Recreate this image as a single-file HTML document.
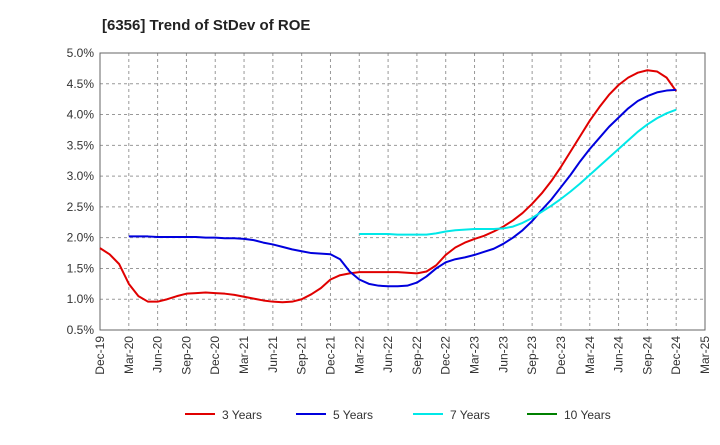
<!DOCTYPE html>
<html><head><meta charset="utf-8"><style>
body{margin:0;background:#fff;font-family:"Liberation Sans",Arial,sans-serif}
svg text{font-family:"Liberation Sans",Arial,sans-serif}
</style></head><body>
<svg id="chart" width="720" height="440">
<text x="102" y="30" font-size="15" font-weight="bold" fill="#222">[6356]  Trend of StDev of ROE</text>
<g id="grid"></g>
<g id="axes"></g>
<g id="series"></g>
<g id="legend"></g>
</svg>
<script>
const xLabels=["Dec-19","Mar-20","Jun-20","Sep-20","Dec-20","Mar-21","Jun-21","Sep-21","Dec-21","Mar-22","Jun-22","Sep-22","Dec-22","Mar-23","Jun-23","Sep-23","Dec-23","Mar-24","Jun-24","Sep-24","Dec-24","Mar-25"];
const yTicks=[0.5,1.0,1.5,2.0,2.5,3.0,3.5,4.0,4.5,5.0];
const s3Start=0;
const s3=[1.83,1.73,1.57,1.25,1.05,0.96,0.96,1.0,1.05,1.09,1.10,1.11,1.10,1.09,1.07,1.04,1.01,0.98,0.96,0.95,0.96,1.0,1.08,1.18,1.32,1.39,1.42,1.44,1.44,1.44,1.44,1.44,1.43,1.42,1.45,1.55,1.72,1.84,1.92,1.98,2.03,2.10,2.18,2.28,2.40,2.55,2.72,2.92,3.15,3.40,3.65,3.90,4.12,4.32,4.48,4.60,4.68,4.72,4.70,4.60,4.38];
const s5Start=3;
const s5=[2.02,2.02,2.02,2.01,2.01,2.01,2.01,2.01,2.00,2.00,1.99,1.99,1.98,1.96,1.92,1.89,1.85,1.81,1.78,1.75,1.74,1.73,1.65,1.45,1.32,1.25,1.22,1.21,1.21,1.22,1.27,1.37,1.50,1.60,1.65,1.68,1.72,1.77,1.82,1.90,2.00,2.12,2.27,2.45,2.62,2.82,3.02,3.24,3.44,3.62,3.80,3.95,4.10,4.22,4.30,4.36,4.39,4.40];
const s7Start=27;
const s7=[2.06,2.06,2.06,2.06,2.05,2.05,2.05,2.05,2.07,2.10,2.12,2.13,2.14,2.14,2.14,2.15,2.18,2.24,2.32,2.42,2.52,2.63,2.75,2.88,3.02,3.16,3.30,3.44,3.58,3.72,3.84,3.94,4.02,4.08];
const s10=[];
const NS="http://www.w3.org/2000/svg";
const L=100,R=705,T=53,B=330;
const xm=m=>L+(R-L)*m/63;
const y=v=>B-(v-0.5)/4.5*(B-T);
function mk(tag,attrs,parent){const e=document.createElementNS(NS,tag);for(const k in attrs)e.setAttribute(k,attrs[k]);parent.appendChild(e);return e;}
const grid=document.getElementById('grid'),axes=document.getElementById('axes'),ser=document.getElementById('series'),leg=document.getElementById('legend');
yTicks.forEach(v=>{
 const ln=mk('line',{x1:L,x2:R,y1:y(v),y2:y(v),stroke:'#999','stroke-dasharray':'3,3','stroke-width':1},grid);
 
 
 const t=mk('text',{x:L-6,y:y(v)+4,'text-anchor':'end','font-size':12,fill:'#333'},axes);
 t.textContent=v.toFixed(1)+'%';
 
 
});
xLabels.forEach((lb,i)=>{
 const x=xm(i*3);
 const ln=mk('line',{x1:x,x2:x,y1:T,y2:B,stroke:'#999','stroke-dasharray':'3,3','stroke-width':1},grid);
 
 
 const t=mk('text',{x:x+4,y:B+6,'text-anchor':'end','font-size':12,fill:'#333',transform:`rotate(-90 ${x+4} ${B+6})`},axes);
 t.textContent=lb;
 
 
});
const frame=mk('rect',{x:L,y:T,width:R-L,height:B-T,fill:'none',stroke:'#666','stroke-width':1},axes);


function line(arr,start,color,name){
 if(!arr.length)return;
 const p=mk('polyline',{points:arr.map((v,i)=>xm(start+i)+','+y(v)).join(' '),fill:'none',stroke:color,'stroke-width':2,'stroke-linejoin':'round'},ser);
 
 
}
line(s3,s3Start,'#e00000','line-3-years');
line(s5,s5Start,'#0000dd','line-5-years');
line(s7,s7Start,'#00e8e8','line-7-years');
line(s10,0,'#008000','line-10-years');
[['3 Years','#e00000',185],['5 Years','#0000dd',296],['7 Years','#00e8e8',413],['10 Years','#008000',527]].forEach(([n,c,x])=>{
 const g=mk('g',{},leg);
 
 
 mk('line',{x1:x,x2:x+30,y1:414,y2:414,stroke:c,'stroke-width':2},g);
 const t=mk('text',{x:x+37,y:419,'font-size':12,fill:'#333'},g);
 t.textContent=n;
});
</script>
</body></html>
